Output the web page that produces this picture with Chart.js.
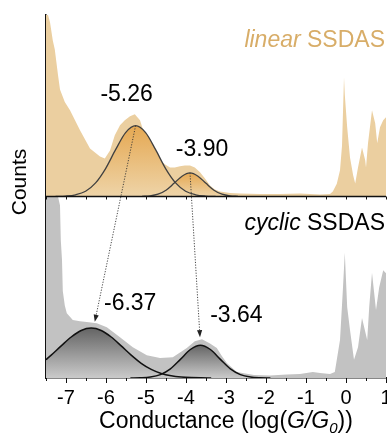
<!DOCTYPE html>
<html>
<head>
<meta charset="utf-8">
<script src="https://cdn.jsdelivr.net/npm/chart.js@4.4.1/dist/chart.umd.min.js"></script>
<style>
  html, body { margin: 0; padding: 0; background: #fff; }
  #c { display: block; }
</style>
</head>
<body>
<canvas id="c" width="387" height="439"></canvas>
<script>
const FONT = '"Liberation Sans", Arial, Helvetica, sans-serif';

// 1D conductance histograms, normalised counts per panel
const linearX = [-7.5,-7.45,-7.4,-7.33,-7.28,-7.2,-7.15,-7.03,-6.9,-6.65,-6.4,-6.15,-6.03,-5.9,-5.78,-5.65,-5.53,-5.4,-5.28,-5.15,-5.03,-4.9,-4.78,-4.65,-4.53,-4.4,-4.28,-4.15,-4.03,-3.9,-3.78,-3.65,-3.53,-3.4,-3.28,-3.15,-2.9,-2.65,-2.15,-1.65,-1.15,-0.65,-0.4,-0.33,-0.23,-0.15,-0.1,-0.05,-0.03,0.03,0.1,0.18,0.23,0.3,0.4,0.48,0.5,0.55,0.65,0.73,0.78,0.85,0.93,1.0];
const linearCounts = [1.0,1.0,0.96,0.86,0.81,0.67,0.59,0.52,0.475,0.365,0.265,0.22,0.21,0.254,0.337,0.392,0.42,0.442,0.453,0.42,0.337,0.27,0.227,0.2,0.177,0.16,0.16,0.166,0.171,0.171,0.16,0.133,0.1,0.06,0.039,0.028,0.019,0.017,0.014,0.014,0.017,0.011,0.014,0.028,0.07,0.144,0.28,0.657,0.56,0.38,0.215,0.116,0.072,0.16,0.27,0.2,0.16,0.293,0.475,0.403,0.293,0.381,0.42,0.436];

const cyclicX = [-7.5,-7.2,-7.15,-7.13,-7.1,-7.08,-7.03,-6.98,-6.83,-6.65,-6.48,-6.23,-5.98,-5.65,-5.33,-4.98,-4.65,-4.33,-3.98,-3.78,-3.6,-3.4,-3.23,-3.1,-2.98,-2.73,-2.3,-1.9,-1.48,-1.15,-0.83,-0.65,-0.4,-0.28,-0.15,-0.08,-0.03,0.03,0.1,0.2,0.3,0.4,0.53,0.58,0.65,0.75,0.83,0.93,1.0];
const cyclicCounts = [1.0,1.0,0.95,0.76,0.65,0.48,0.40,0.357,0.319,0.313,0.308,0.302,0.28,0.225,0.17,0.126,0.11,0.115,0.165,0.203,0.214,0.19,0.165,0.12,0.082,0.033,0.016,0.014,0.019,0.022,0.033,0.027,0.022,0.033,0.209,0.48,0.69,0.39,0.264,0.1,0.17,0.33,0.209,0.39,0.58,0.374,0.5,0.593,0.577];

// Gaussian fit peaks (log G/G0)
const linearPeaks = [-5.26, -3.90];
const cyclicPeaks = [-6.37, -3.64];

// sampled Gaussian fit curves
const linFit1X = [-7.26,-7.01,-6.76,-6.51,-6.26,-6.01,-5.76,-5.51,-5.26,-5.01,-4.76,-4.51,-4.26,-4.01,-3.76,-3.51,-3.26];
const linFit1Y = [0.0005,0.0025,0.0095,0.029,0.075,0.154,0.258,0.352,0.39,0.352,0.258,0.154,0.075,0.029,0.0095,0.0025,0.0005];
const linFit2X = [-5.1,-4.9,-4.7,-4.5,-4.3,-4.1,-3.9,-3.7,-3.5,-3.3,-3.1,-2.9,-2.7];
const linFit2Y = [0.0007,0.0034,0.0126,0.0349,0.0725,0.112,0.13,0.112,0.0725,0.0349,0.0126,0.0034,0.0007];
const cycFit1X = [-7.5,-7.37,-7.12,-6.87,-6.62,-6.37,-6.12,-5.87,-5.62,-5.37,-5.12,-4.87,-4.62,-4.37,-4.12,-3.87,-3.62,-3.37];
const cycFit1Y = [0.101,0.126,0.177,0.226,0.262,0.275,0.262,0.226,0.177,0.126,0.081,0.0475,0.0251,0.0121,0.0053,0.0021,0.00075,0.00024];
const cycFit2X = [-5.39,-5.14,-4.89,-4.64,-4.39,-4.14,-3.89,-3.64,-3.39,-3.14,-2.89,-2.64,-2.39,-2.14,-1.89];
const cycFit2Y = [0.0002,0.0011,0.0053,0.0188,0.0507,0.1028,0.157,0.181,0.157,0.1028,0.0507,0.0188,0.0053,0.0011,0.0002];

// x axis tick labels
const tickValues = [-7, -6, -5, -4, -3, -2, -1, 0, 1];
const tickLabels = ['-7', '-6', '-5', '-4', '-3', '-2', '-1', '0', '1'];

const toPoints = (xs, ys) => xs.map((x, i) => ({ x, y: ys[i] }));

function fitFill(axisId, ys, topColor, bottomColor) {
  const peak = Math.max(...ys);
  return (context) => {
    const chart = context.chart;
    if (!chart.chartArea) return bottomColor;
    const s = chart.scales[axisId];
    const g = chart.ctx.createLinearGradient(0, s.getPixelForValue(peak), 0, s.getPixelForValue(0));
    g.addColorStop(0, topColor);
    g.addColorStop(1, bottomColor);
    return g;
  };
}

function fitDataset(xs, ys, axisId, lineColor, lineWidth, topColor, bottomColor) {
  return {
    data: toPoints(xs, ys),
    yAxisID: axisId,
    borderColor: lineColor,
    borderWidth: lineWidth,
    backgroundColor: fitFill(axisId, ys, topColor, bottomColor),
    fill: 'origin',
    pointRadius: 0,
    cubicInterpolationMode: 'monotone'
  };
}

function histDataset(xs, ys, axisId, color) {
  return {
    data: toPoints(xs, ys),
    yAxisID: axisId,
    borderWidth: 0,
    borderColor: 'rgba(0,0,0,0)',
    backgroundColor: color,
    fill: 'origin',
    pointRadius: 0,
    tension: 0
  };
}

// arrows linking the linear peaks to the cyclic peaks (data coordinates)
const arrows = [
  { from: { x: linearPeaks[0], y: Math.max(...linFit1Y) }, to: { x: -6.28, y: 0.31 } },
  { from: { x: linearPeaks[1], y: Math.max(...linFit2Y) }, to: { x: -3.65, y: 0.225 } }
];

const annotate = {
  id: 'annotate',
  afterDatasetsDraw(chart) {
    const { ctx, chartArea } = chart;
    const x = chart.scales.x, yLin = chart.scales.yLin, yCyc = chart.scales.yCyc;
    ctx.save();

    // divider between the two panels
    const midY = yLin.bottom;
    ctx.strokeStyle = '#111';
    ctx.lineWidth = 1.5;
    ctx.beginPath();
    ctx.moveTo(chartArea.left, midY);
    ctx.lineTo(chartArea.right, midY);
    ctx.stroke();

    // major and minor ticks
    ctx.lineWidth = 1;
    ctx.beginPath();
    x.ticks.forEach(t => {
      const px = Math.round(x.getPixelForValue(t.value)) + 0.5;
      const major = tickValues.some(v => Math.abs(v - t.value) < 1e-6);
      ctx.moveTo(px, chartArea.bottom);
      ctx.lineTo(px, chartArea.bottom + (major ? 5 : 3));
      ctx.moveTo(px, midY);
      ctx.lineTo(px, midY + 3);
    });
    ctx.stroke();

    // dotted arrows
    arrows.forEach(a => {
      const x0 = x.getPixelForValue(a.from.x), y0 = yLin.getPixelForValue(a.from.y);
      const x1 = x.getPixelForValue(a.to.x), y1 = yCyc.getPixelForValue(a.to.y);
      const ang = Math.atan2(y1 - y0, x1 - x0);
      const head = 7, half = 2.6;
      const bx = x1 - head * Math.cos(ang), by = y1 - head * Math.sin(ang);
      ctx.save();
      ctx.strokeStyle = '#333';
      ctx.lineWidth = 0.9;
      ctx.setLineDash([1.2, 1.5]);
      ctx.beginPath();
      ctx.moveTo(x0, y0);
      ctx.lineTo(bx, by);
      ctx.stroke();
      ctx.restore();
      ctx.fillStyle = '#222';
      ctx.beginPath();
      ctx.moveTo(x1, y1);
      ctx.lineTo(bx + half * Math.sin(ang), by - half * Math.cos(ang));
      ctx.lineTo(bx - half * Math.sin(ang), by + half * Math.cos(ang));
      ctx.closePath();
      ctx.fill();
    });

    // peak value labels
    ctx.fillStyle = '#000';
    ctx.textAlign = 'center';
    ctx.textBaseline = 'alphabetic';
    ctx.font = '23px ' + FONT;
    const peakLabels = [
      { v: linearPeaks[0], h: Math.max(...linFit1Y), s: yLin, dx: -9, dy: -25 },
      { v: linearPeaks[1], h: Math.max(...linFit2Y), s: yLin, dx: 12, dy: -17 },
      { v: cyclicPeaks[0], h: Math.max(...cycFit1Y), s: yCyc, dx: 39, dy: -18 },
      { v: cyclicPeaks[1], h: Math.max(...cycFit2Y), s: yCyc, dx: 36, dy: -23 }
    ];
    peakLabels.forEach(l => {
      ctx.fillText(l.v.toFixed(2), x.getPixelForValue(l.v) + l.dx, l.s.getPixelForValue(l.h) + l.dy);
    });

    // panel titles
    ctx.textAlign = 'left';
    const panelTitle = (italic, rest, color, baseline) => {
      ctx.fillStyle = color;
      ctx.font = '23px ' + FONT;
      const wRest = ctx.measureText(rest).width;
      ctx.font = 'italic 23px ' + FONT;
      const wIt = ctx.measureText(italic + ' ').width;
      const start = chartArea.right - 1 - wRest - wIt;
      ctx.fillText(italic + ' ', start, baseline);
      ctx.font = '23px ' + FONT;
      ctx.fillText(rest, start + wIt, baseline);
    };
    panelTitle('linear', 'SSDAS', '#d8ad68', yLin.top + 32);
    panelTitle('cyclic', 'SSDAS', '#000', yCyc.top + 33.5);

    // y axis title
    ctx.save();
    ctx.fillStyle = '#000';
    ctx.font = '21px ' + FONT;
    ctx.textAlign = 'center';
    ctx.textBaseline = 'middle';
    ctx.translate(20, 182);
    ctx.rotate(-Math.PI / 2);
    ctx.fillText('Counts', 0, 0);
    ctx.restore();

    // x axis title: Conductance (log(G/G0))
    const parts = [
      { t: 'Conductance (log(', f: '23px ' + FONT, dy: 0 },
      { t: 'G/G', f: 'italic 23px ' + FONT, dy: 0 },
      { t: '0', f: 'italic 15px ' + FONT, dy: 5 },
      { t: '))', f: '23px ' + FONT, dy: 0 }
    ];
    let total = 0;
    parts.forEach(p => { ctx.font = p.f; p.w = ctx.measureText(p.t).width; total += p.w; });
    let cx = 226 - total / 2;
    ctx.fillStyle = '#000';
    ctx.textAlign = 'left';
    parts.forEach(p => { ctx.font = p.f; ctx.fillText(p.t, cx, 428 + p.dy); cx += p.w; });

    ctx.restore();
  }
};

const axisBorder = { display: true, color: '#111', width: 1.5 };

new Chart(document.getElementById('c'), {
  type: 'line',
  data: {
    datasets: [
      fitDataset(linFit1X, linFit1Y, 'yLin', '#404040', 1.3, 'rgb(229,168,82)', 'rgb(238,212,168)'),
      fitDataset(linFit2X, linFit2Y, 'yLin', '#404040', 1.3, 'rgb(229,168,82)', 'rgb(238,212,168)'),
      fitDataset(cycFit1X, cycFit1Y, 'yCyc', '#111', 1.5, 'rgb(100,100,100)', 'rgb(202,202,202)'),
      fitDataset(cycFit2X, cycFit2Y, 'yCyc', '#111', 1.5, 'rgb(100,100,100)', 'rgb(202,202,202)'),
      histDataset(linearX, linearCounts, 'yLin', 'rgb(235,207,160)'),
      histDataset(cyclicX, cyclicCounts, 'yCyc', 'rgb(194,194,194)')
    ]
  },
  options: {
    responsive: false,
    animation: false,
    events: [],
    layout: { padding: { top: 15, right: 1, left: 0, bottom: 0 } },
    plugins: {
      legend: { display: false },
      tooltip: { enabled: false },
      filler: { drawTime: 'beforeDatasetsDraw' }
    },
    scales: {
      x: {
        type: 'linear',
        position: 'bottom',
        min: -7.5,
        max: 1,
        grid: { display: false, drawTicks: false },
        border: axisBorder,
        ticks: {
          stepSize: 0.5,
          autoSkip: false,
          maxRotation: 0,
          padding: 8,
          color: '#000',
          font: { family: FONT, size: 20 },
          callback: (v) => {
            const i = tickValues.findIndex(t => Math.abs(t - v) < 1e-6);
            return i >= 0 ? tickLabels[i] : '';
          }
        },
        afterFit: (s) => { s.height = 61; s.paddingLeft = 0; s.paddingRight = 0; }
      },
      yCyc: {
        type: 'linear',
        position: 'left',
        stack: 'panels',
        stackWeight: 1,
        min: 0,
        max: 1,
        grid: { display: false },
        border: axisBorder,
        ticks: { display: false },
        afterFit: (s) => { s.width = 46; }
      },
      yLin: {
        type: 'linear',
        position: 'left',
        stack: 'panels',
        stackWeight: 1,
        min: 0,
        max: 1,
        grid: { display: false },
        border: axisBorder,
        ticks: { display: false },
        afterFit: (s) => { s.width = 46; }
      }
    }
  },
  plugins: [annotate]
});
</script>
</body>
</html>
